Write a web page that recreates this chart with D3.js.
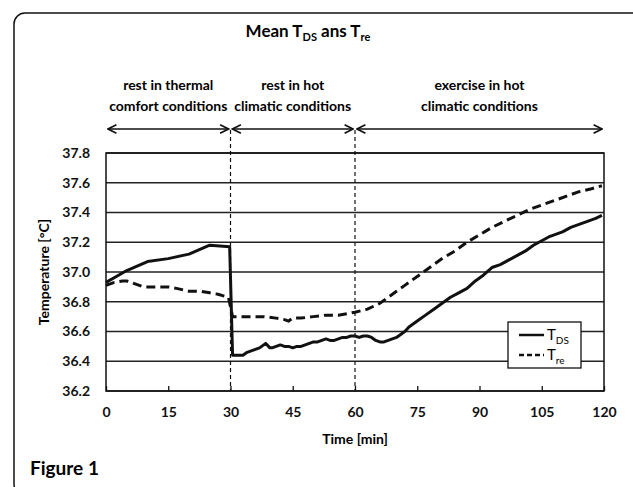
<!DOCTYPE html>
<html lang="en">

<head>
    <meta charset="utf-8">
    <title>Mean TDS ans Tre</title>
    <script src="https://cdn.jsdelivr.net/npm/d3@7/dist/d3.min.js"></script>
    <style>
        body {
            margin: 0;
            background: #fff;
        }

        svg {
            font-family: Lato, "Open Sans", sans-serif;
        }
    </style>
</head>

<body>
    <div id="chart"></div>

    <script type="text/javascript">
        // time [min] and mean temperature [°C]
        var tdsTime = [0, 2.5, 5, 7.5, 10, 15, 20, 22.5, 25, 29.8, 30.5, 31, 33, 34, 35, 36, 37, 38, 38.5, 39.5, 40, 41, 42, 43, 44, 45, 46,
            47, 48, 49, 50, 51, 52, 53, 54, 55, 56, 57, 58, 59, 60, 61, 62, 63, 64, 65, 66, 67, 68, 69, 70, 71, 72, 73, 74, 75, 77, 79,
            81, 83, 85, 87, 89, 91, 93, 95, 97, 99, 101, 103, 105, 107, 108, 110, 112, 114, 116, 118, 119.5];
        var tdsTemp = [36.93, 36.97, 37.01, 37.04, 37.07, 37.09, 37.12, 37.15, 37.18, 37.17, 36.44, 36.44, 36.44, 36.46, 36.47, 36.48,
            36.49, 36.51, 36.52, 36.49, 36.49, 36.50, 36.51, 36.50, 36.50, 36.49, 36.50, 36.50, 36.51, 36.52, 36.53, 36.53, 36.54, 36.55,
            36.54, 36.54, 36.55, 36.56, 36.56, 36.57, 36.57, 36.56, 36.57, 36.57, 36.56, 36.54, 36.53, 36.53, 36.54, 36.55, 36.56, 36.58,
            36.60, 36.63, 36.65, 36.67, 36.71, 36.75, 36.79, 36.83, 36.86, 36.89, 36.94, 36.98, 37.03, 37.05, 37.08, 37.11, 37.14, 37.18,
            37.21, 37.24, 37.25, 37.27, 37.30, 37.32, 37.34, 37.36, 37.38];

        var treTime = [0, 2, 4, 5, 7, 9, 12, 15, 17, 20, 23, 25, 27, 29.5, 30.5, 32, 35, 38, 41, 43, 44, 45, 47, 50, 53, 56, 58, 60, 63,
            66, 68, 70, 72, 75, 78, 81, 84, 87, 90, 93, 96, 99, 102, 105, 108, 111, 114, 117, 119.5];
        var treTemp = [36.91, 36.93, 36.94, 36.94, 36.92, 36.90, 36.90, 36.90, 36.89, 36.87, 36.87, 36.86, 36.85, 36.83, 36.70, 36.70,
            36.70, 36.70, 36.69, 36.68, 36.67, 36.69, 36.69, 36.70, 36.71, 36.71, 36.72, 36.73, 36.75, 36.79, 36.83, 36.87, 36.91, 36.97,
            37.03, 37.09, 37.14, 37.20, 37.25, 37.30, 37.34, 37.38, 37.42, 37.45, 37.48, 37.51, 37.54, 37.56, 37.58];

        var xTicks = [0, 15, 30, 45, 60, 75, 90, 105, 120];
        var yTicks = [36.2, 36.4, 36.6, 36.8, 37.0, 37.2, 37.4, 37.6, 37.8];

        // phases of the protocol
        var phases = [
            { from: 0, to: 30, lines: ['rest in thermal', 'comfort conditions'] },
            { from: 30, to: 60, lines: ['rest in hot', 'climatic conditions'] },
            { from: 60, to: 120, lines: ['exercise in hot', 'climatic conditions'] }
        ];
        var phaseBreaks = [30, 60];

        var width = 633, height = 487;
        var plot = { left: 106, right: 604, top: 153, bottom: 391 };
        var arrowY = 129;

        var svg = d3.select('#chart')
            .append('svg')
            .attr('width', width)
            .attr('height', height);

        var x = d3.scaleLinear().domain([0, 120]).range([plot.left, plot.right]);
        var y = d3.scaleLinear().domain([36.2, 37.8]).range([plot.bottom, plot.top]);

        // outer frame
        svg.append('rect')
            .attr('x', 14).attr('y', 13)
            .attr('width', 640).attr('height', 482)
            .attr('rx', 11)
            .attr('fill', 'none')
            .attr('stroke', '#111')
            .attr('stroke-width', 1.5);

        // title with subscripts
        var title = svg.append('text')
            .attr('x', 308).attr('y', 37)
            .attr('text-anchor', 'middle')
            .style('font-size', '17px')
            .style('font-weight', 'bold');
        title.append('tspan').text('Mean T');
        title.append('tspan').attr('dy', 4).style('font-size', '11px').text('DS');
        title.append('tspan').attr('dy', -4).text(' ans T');
        title.append('tspan').attr('dy', 4).style('font-size', '11px').text('re');

        // horizontal grid
        svg.append('g')
            .selectAll('line')
            .data(yTicks)
            .enter().append('line')
            .attr('x1', plot.left).attr('x2', plot.right)
            .attr('y1', d => y(d)).attr('y2', d => y(d))
            .attr('stroke', '#222')
            .attr('stroke-width', 1.3);

        // plot frame
        svg.append('rect')
            .attr('x', plot.left).attr('y', plot.top)
            .attr('width', plot.right - plot.left).attr('height', plot.bottom - plot.top)
            .attr('fill', 'none')
            .attr('stroke', '#111')
            .attr('stroke-width', 1.5);

        // y axis labels
        var yAxis = d3.axisLeft(y).tickValues(yTicks).tickFormat(d3.format('.1f')).tickSize(0).tickPadding(16);
        svg.append('g')
            .attr('transform', `translate(${plot.left},0)`)
            .call(yAxis)
            .call(g => g.select('.domain').remove())
            .selectAll('text')
            .style('font-family', 'Lato, sans-serif')
            .style('font-size', '14px')
            .style('font-weight', 'bold')
            .attr('fill', '#111');

        // x axis: small inner ticks + labels
        var xAxis = d3.axisBottom(x).tickValues(xTicks).tickSize(-5).tickPadding(16);
        svg.append('g')
            .attr('transform', `translate(0,${plot.bottom})`)
            .call(xAxis)
            .call(g => g.select('.domain').remove())
            .call(g => g.selectAll('.tick line').attr('stroke', '#111').attr('stroke-width', 1.3))
            .selectAll('text')
            .style('font-family', 'Lato, sans-serif')
            .style('font-size', '14px')
            .style('font-weight', 'bold')
            .attr('fill', '#111');

        // axis titles
        svg.append('text')
            .attr('x', x(60)).attr('y', 444)
            .attr('text-anchor', 'middle')
            .style('font-size', '14px')
            .style('font-weight', 'bold')
            .text('Time [min]');

        svg.append('text')
            .attr('transform', `translate(49,${(plot.top + plot.bottom) / 2}) rotate(-90)`)
            .attr('text-anchor', 'middle')
            .style('font-size', '14px')
            .style('font-weight', 'bold')
            .text('Temperature [°C]');

        // phase separators
        svg.append('g')
            .selectAll('line')
            .data(phaseBreaks)
            .enter().append('line')
            .attr('x1', d => x(d)).attr('x2', d => x(d))
            .attr('y1', arrowY + 1).attr('y2', plot.bottom)
            .attr('stroke', '#111')
            .attr('stroke-width', 1.2)
            .attr('stroke-dasharray', '4,3');

        // arrow markers
        var defs = svg.append('defs');
        ['arrowEnd', 'arrowStart'].forEach((id, i) => {
            defs.append('marker')
                .attr('id', id)
                .attr('viewBox', '0 0 10 10')
                .attr('refX', i ? 1 : 9).attr('refY', 5)
                .attr('markerWidth', 7).attr('markerHeight', 7)
                .attr('orient', 'auto')
                .append('path')
                .attr('d', i ? 'M9,1 L1,5 L9,9' : 'M1,1 L9,5 L1,9')
                .attr('fill', 'none')
                .attr('stroke', '#111')
                .attr('stroke-width', 1.6);
        });

        var phaseG = svg.append('g');
        phases.forEach(p => {
            phaseG.append('line')
                .attr('x1', x(p.from) + 2).attr('x2', x(p.to) - 2)
                .attr('y1', arrowY).attr('y2', arrowY)
                .attr('stroke', '#111')
                .attr('stroke-width', 1.5)
                .attr('marker-start', 'url(#arrowStart)')
                .attr('marker-end', 'url(#arrowEnd)');
            var cx = (x(p.from) + x(p.to)) / 2;
            p.lines.forEach((l, i) => {
                phaseG.append('text')
                    .attr('x', cx).attr('y', 90 + i * 21)
                    .attr('text-anchor', 'middle')
                    .style('font-size', '14px')
                    .style('font-weight', 'bold')
                    .text(l);
            });
        });

        // series
        var line = d3.line().x(d => x(d[0])).y(d => y(d[1]));
        var tds = d3.zip(tdsTime, tdsTemp);
        var tre = d3.zip(treTime, treTemp);

        svg.append('path')
            .datum(tre)
            .attr('d', line)
            .attr('fill', 'none')
            .attr('stroke', '#111')
            .attr('stroke-width', 3)
            .attr('stroke-dasharray', '9,5');

        svg.append('path')
            .datum(tds)
            .attr('d', line)
            .attr('fill', 'none')
            .attr('stroke', '#111')
            .attr('stroke-width', 3)
            .attr('stroke-linejoin', 'round');

        // legend
        var lg = svg.append('g');
        lg.append('rect')
            .attr('x', 508).attr('y', 322)
            .attr('width', 73).attr('height', 46)
            .attr('fill', '#fff')
            .attr('stroke', '#111')
            .attr('stroke-width', 1.3);
        var legendItems = [
            { name: 'T', sub: 'DS', dash: null },
            { name: 'T', sub: 're', dash: '5,3' }
        ];
        legendItems.forEach((it, i) => {
            var ly = 335 + i * 20;
            lg.append('line')
                .attr('x1', 519).attr('x2', 544)
                .attr('y1', ly).attr('y2', ly)
                .attr('stroke', '#111')
                .attr('stroke-width', 2.5)
                .attr('stroke-dasharray', it.dash);
            var t = lg.append('text')
                .attr('x', 547).attr('y', ly + 5)
                .style('font-size', '15px');
            t.append('tspan').text(it.name);
            t.append('tspan').attr('dy', 4).style('font-size', '10px').text(it.sub);
        });

        svg.append('text')
            .attr('x', 30).attr('y', 475)
            .style('font-size', '19px')
            .style('font-weight', 'bold')
            .text('Figure 1');
    </script>
</body>

</html>
